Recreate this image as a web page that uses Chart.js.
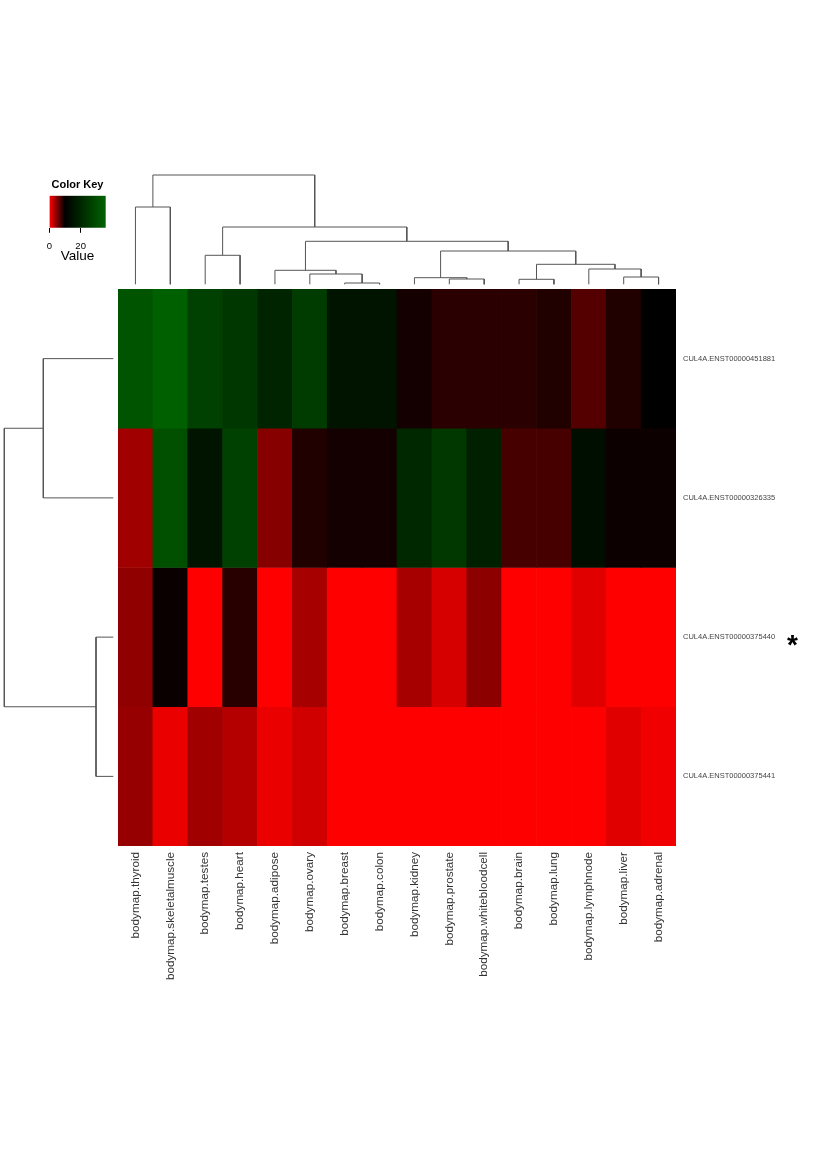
<!DOCTYPE html>
<html>
<head>
<meta charset="utf-8">
<script src="https://cdn.jsdelivr.net/npm/chart.js@4/dist/chart.umd.min.js"></script>
<style>
  html, body { margin: 0; padding: 0; background: #ffffff; }
  body { width: 826px; height: 1169px; position: relative; overflow: hidden; font-family: "Liberation Sans", Arial, sans-serif; }
  canvas { position: absolute; display: block; }
  #star { position: absolute; left: 787px; top: 631px; font: bold 28px/28px "Liberation Sans", Arial, sans-serif; color: #000; }
</style>
</head>
<body>
<canvas id="key" width="75" height="88" style="left:40px;top:175px"></canvas>
<canvas id="colDendro" width="558" height="120" style="left:118px;top:170px"></canvas>
<canvas id="rowDendro" width="118" height="557" style="left:0px;top:289px"></canvas>
<canvas id="heat" width="708" height="711" style="left:118px;top:289px"></canvas>
<div id="star">*</div>
<script>
// ---------- data ----------
const columns = ['bodymap.thyroid', 'bodymap.skeletalmuscle', 'bodymap.testes', 'bodymap.heart',
  'bodymap.adipose', 'bodymap.ovary', 'bodymap.breast', 'bodymap.colon', 'bodymap.kidney',
  'bodymap.prostate', 'bodymap.whitebloodcell', 'bodymap.brain', 'bodymap.lung',
  'bodymap.lymphnode', 'bodymap.liver', 'bodymap.adrenal'];
const rows = ['CUL4A.ENST00000451881', 'CUL4A.ENST00000326335', 'CUL4A.ENST00000375440', 'CUL4A.ENST00000375441'];

const row451881 = [31.8, 35.0, 26.6, 24.3, 19.4, 25.4, 15.2, 15.2, 9.2, 8.3, 8.3, 8.3, 8.7, 6.7, 8.7, 10.0];
const row326335 = [3.7, 30.8, 15.2, 26.6, 4.7, 8.7, 9.2, 9.2, 20.4, 24.6, 18.3, 7.2, 7.2, 13.6, 9.5, 9.5];
const row375440 = [4.3, 9.6, 0.0, 8.4, 0.0, 3.5, 0.0, 0.0, 3.5, 1.6, 4.5, 0.0, 0.0, 1.2, 0.0, 0.0];
const row375441 = [4.1, 0.8, 3.7, 2.9, 0.8, 1.8, 0.0, 0.0, 0.0, 0.0, 0.0, 0.0, 0.0, 0.0, 1.2, 0.6];

// colour key: value stops and colours
const keyStops = [0, 10, 36];
const keyColors = [[255, 0, 0], [0, 0, 0], [0, 100, 0]];
const keyTicks = [0, 20];

// column dendrogram (hclust-style merges: negative = leaf, positive = earlier merge)
const colMerges = [[-7, -8], [-10, -11], [-12, -13], [-15, -16], [-9, 2], [-6, 1], [-5, 6], [-14, 4],
  [3, 8], [-3, -4], [5, 9], [7, 11], [10, 12], [-1, -2], [14, 13]];
const colHeights = [1.3, 5.3, 5.0, 7.3, 6.6, 10.3, 14.0, 15.3, 20.0, 29.0, 33.3, 43.0, 57.3, 77.3, 109.3];

// row dendrogram
const rowMerges = [[-3, -4], [-1, -2], [2, 1]];
const rowHeights = [17.3, 70.0, 109.0];

// ---------- helpers ----------
const FONT = '"Liberation Sans", Arial, sans-serif';
const rowSeries = [row451881, row326335, row375440, row375441];

function valueToColor(v) {
  let i = 0;
  while (i < keyStops.length - 2 && v > keyStops[i + 1]) i++;
  let t = (v - keyStops[i]) / (keyStops[i + 1] - keyStops[i]);
  t = Math.max(0, Math.min(1, t));
  const a = keyColors[i], b = keyColors[i + 1];
  const c = a.map((x, k) => Math.round(x + (b[k] - x) * t));
  return `rgb(${c[0]},${c[1]},${c[2]})`;
}

function dendroSegments(merges, heights, swap) {
  const pos = [];
  const out = [];
  merges.forEach((m, k) => {
    const node = id => id < 0 ? { p: -id - 1, h: 0 } : { p: pos[id - 1], h: heights[id - 1] };
    const a = node(m[0]), b = node(m[1]);
    pos[k] = (a.p + b.p) / 2;
    const H = heights[k];
    const pts = [[a.p, a.h], [a.p, H], [b.p, H], [b.p, b.h]];
    out.push(pts.map(([p, h]) => swap ? { x: h, y: p } : { x: p, y: h }));
  });
  return out;
}

const lineStyle = { showLine: true, borderColor: '#555555', borderWidth: 1, pointRadius: 0, fill: false, tension: 0, clip: false };
const baseOpts = { responsive: false, animation: false, events: [],
  plugins: { legend: { display: false }, tooltip: { enabled: false } } };

// ---------- colour key ----------
new Chart(document.getElementById('key'), {
  type: 'bar',
  data: {
    labels: ['Value'],
    datasets: [{
      data: [[keyStops[0], keyStops[keyStops.length - 1]]],
      backgroundColor: (ctx) => {
        const chart = ctx.chart;
        const x = chart.scales.x;
        if (!chart.chartArea || !x) return '#000';
        const x0 = x.getPixelForValue(keyStops[0]);
        const x1 = x.getPixelForValue(keyStops[keyStops.length - 1]);
        const g = chart.ctx.createLinearGradient(x0, 0, x1, 0);
        keyStops.forEach((s, i) => {
          const c = keyColors[i];
          g.addColorStop((s - keyStops[0]) / (keyStops[keyStops.length - 1] - keyStops[0]), `rgb(${c[0]},${c[1]},${c[2]})`);
        });
        return g;
      },
      borderWidth: 0, barPercentage: 1, categoryPercentage: 1
    }]
  },
  options: Object.assign({}, baseOpts, {
    indexAxis: 'y',
    layout: { padding: { left: 9.3, right: 9.3, top: 0, bottom: 0 } },
    plugins: {
      legend: { display: false }, tooltip: { enabled: false },
      title: { display: true, text: 'Color Key', color: '#000', font: { family: FONT, size: 11, weight: 'bold', lineHeight: 1.2 }, padding: { top: 3.4, bottom: 4.1 } }
    },
    scales: {
      x: {
        type: 'linear', min: keyStops[0], max: keyStops[keyStops.length - 1],
        afterBuildTicks: (s) => { s.ticks = keyTicks.map(v => ({ value: v })); },
        grid: { drawOnChartArea: false, drawTicks: true, tickLength: 5, color: '#000', lineWidth: 1 },
        border: { display: false },
        ticks: { padding: 8.7, color: '#000', font: { family: FONT, size: 9.5, lineHeight: 1 } },
        title: { display: true, text: 'Value', color: '#000', font: { family: FONT, size: 13.5, lineHeight: 1 }, padding: { top: -10.2, bottom: 0 } },
        afterFit: (s) => { s.paddingLeft = 0; s.paddingRight = 0; }
      },
      y: { display: false }
    }
  })
});

// ---------- column dendrogram ----------
new Chart(document.getElementById('colDendro'), {
  type: 'scatter',
  data: { datasets: dendroSegments(colMerges, colHeights, false).map(d => Object.assign({ data: d }, lineStyle)) },
  options: Object.assign({}, baseOpts, {
    layout: { padding: { left: 0, right: 0, top: 5, bottom: 5.7 } },
    scales: {
      x: { type: 'linear', min: -0.5, max: columns.length - 0.5, display: false },
      y: { type: 'linear', min: 0, max: colHeights[colHeights.length - 1], display: false }
    }
  })
});

// ---------- row dendrogram ----------
new Chart(document.getElementById('rowDendro'), {
  type: 'scatter',
  data: { datasets: dendroSegments(rowMerges, rowHeights, true).map(d => Object.assign({ data: d }, lineStyle)) },
  options: Object.assign({}, baseOpts, {
    layout: { padding: { left: 4.3, right: 4.7, top: 0, bottom: 0 } },
    scales: {
      x: { type: 'linear', min: 0, max: rowHeights[rowHeights.length - 1], reverse: true, display: false },
      y: { type: 'linear', min: -0.5, max: rows.length - 0.5, reverse: true, display: false }
    }
  })
});

// ---------- heatmap ----------
new Chart(document.getElementById('heat'), {
  type: 'bar',
  data: {
    labels: columns,
    datasets: rowSeries.map((vals, r) => ({
      label: rows[r],
      data: vals.map(() => [r, r + 1]),
      backgroundColor: vals.map(valueToColor),
      borderWidth: 0,
      grouped: false,
      barPercentage: 1,
      categoryPercentage: 1,
      yAxisID: 'y'
    }))
  },
  options: Object.assign({}, baseOpts, {
    layout: { padding: 0 },
    scales: {
      x: {
        type: 'category', position: 'bottom', offset: true,
        grid: { display: false, drawTicks: false }, border: { display: false },
        ticks: { autoSkip: false, minRotation: 90, maxRotation: 90, padding: 6, color: '#333', font: { family: FONT, size: 11.7 } },
        afterFit: (s) => { s.height = 154; s.paddingLeft = 0; s.paddingRight = 0; }
      },
      y: { type: 'linear', min: 0, max: rows.length, reverse: true, display: false },
      y2: {
        type: 'category', labels: rows, position: 'right', offset: true,
        grid: { display: false, drawTicks: false }, border: { display: false },
        ticks: { padding: 7, color: '#444', font: { family: FONT, size: 7.5 } },
        afterFit: (s) => { s.width = 150; s.paddingTop = 0; s.paddingBottom = 0; }
      }
    }
  })
});
</script>
</body>
</html>
